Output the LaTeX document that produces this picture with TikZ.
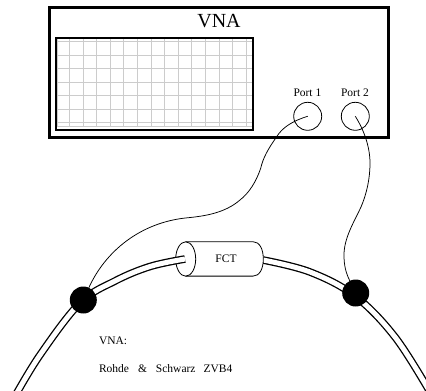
\documentclass[tikz,border=0pt]{standalone}
\usepackage{fontspec}
\setmainfont{Liberation Serif}
\newcommand{\fsz}[1]{\fontsize{#1}{#1}\selectfont}
\tikzset{
  x=1pt,y=-1pt,
  box/.style={draw=black,line width=3pt,fill=none,outer sep=0pt},
  screenbox/.style={draw=black,line width=2.2pt,fill=none,outer sep=0pt},
  gridline/.style={draw=black!20,line width=1pt},
  portc/.style={circle,draw=black,line width=0.8pt,minimum size=28pt,inner sep=0pt,outer sep=0pt},
  txt/.style={inner sep=0pt,outer sep=0pt},
  lab/.style={txt,font=\fsz{11.5}},
  cable/.style={draw=black,line width=0.75pt},
  ringl/.style={draw=black,double=white,double distance=5pt,line width=1.3pt},
  joint/.style={circle,fill=black,draw=none,minimum size=27pt,inner sep=0pt,outer sep=0pt},
  cyl/.style={draw=black,line width=0.8pt},
}
\begin{document}
\begin{tikzpicture}
\useasboundingbox (0,0) rectangle (426,391);
% instrument
\node[box,rectangle,minimum width=339.5pt,minimum height=130pt,inner sep=0pt,anchor=north west] (vna) at (49.3,7) {};
\node[txt,font=\fsz{20}] (title) at (219,21) {VNA};
% screen grid
\foreach \gx in {57,69.5,83.1,96.7,110.3,123.9,137.5,151.1,164.7,178.3,191.9,205.5,219.1,232.7,246.3,252.5}
  \draw[gridline] (\gx,39) -- (\gx,127);
\foreach \gy in {41,55,68.4,82.2,95.8,109.4,122.8,126.7}
  \draw[gridline] (56,\gy) -- (253,\gy);
\node[screenbox,rectangle,minimum width=197pt,minimum height=92pt,inner sep=0pt,anchor=north west] (screen) at (56,38) {};
% ports
\node[portc] (p1) at (307.7,116.3) {};
\node[portc] (p2) at (355.3,116.3) {};
\node[lab] (l1) at (307.4,93) {Port 1};
\node[lab] (l2) at (355,93) {Port 2};
% ring
\coordinate (rl) at (185,259);
\coordinate (rr) at (263,260);
\draw[ringl] plot[smooth,tension=0.6] coordinates {(rr) (310,272) (355,296) (395,337) (430,392)};
% current transformer
\coordinate (cl) at (185.7,259);
\draw[cyl,fill=white] (185.7,241.7) -- (253,241.7)
  .. controls (259.5,241.7) and (263.3,249) .. (263.3,259)
  .. controls (263.3,269) and (259.5,276.1) .. (253,276.1) -- (185.7,276.1);
\draw[cyl] (cl) ellipse[x radius=10pt,y radius=17.2pt];
\draw[ringl] plot[smooth,tension=0.6] coordinates {(14,398) (40,355) (80,303) (115,281) (150,266.5) (rl)};
\node[lab] (fct) at (226,259) {FCT};
% joints
\node[joint] (ja) at (83.3,300) {};
\node[joint] (jb) at (355.7,293) {};
% cables
\draw[cable] (p1.center) .. controls (292,121) and (282,128) .. (276.7,136.7)
  .. controls (268,149) and (263,158) .. (260.7,168.3)
  .. controls (256,182) and (249,193) .. (240,200)
  .. controls (225,213) and (205,216) .. (188.3,217.7)
  .. controls (140,222) and (105,252) .. (ja);
\draw[cable] (p2.center) .. controls (364,130) and (370,147) .. (370,163)
  .. controls (370,178) and (367,193) .. (361,207)
  .. controls (354,222) and (344,238) .. (344,255)
  .. controls (344,266) and (346,273) .. (jb);
% notes
\node[lab,anchor=base west] (n1) at (99,344) {VNA:};
\node[lab,anchor=base west] (n2) at (99,372.7) {Rohde\hspace{9pt}\&\hspace{9pt}Schwarz\hspace{8pt}ZVB4};
\end{tikzpicture}
\end{document}
